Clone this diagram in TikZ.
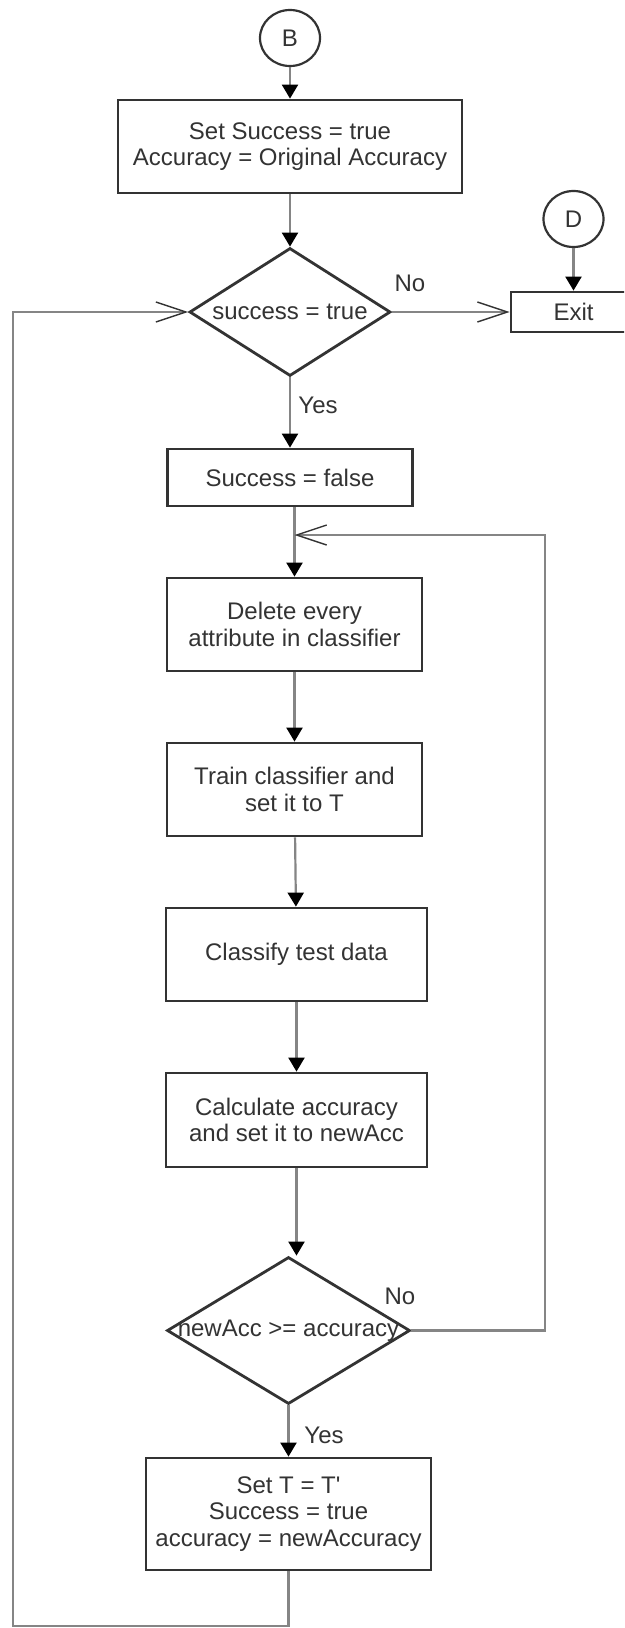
\documentclass[tikz,border=0pt]{standalone}
\usepackage{fontspec}
\setmainfont{Liberation Sans}
\usetikzlibrary{shapes.geometric,arrows.meta,calc}
\definecolor{boxline}{HTML}{333333}
\definecolor{conn}{HTML}{858585}
\definecolor{txt}{HTML}{333333}
\begin{document}
\begin{tikzpicture}[x=1pt,y=-1pt,
  every node/.style={font=\fontsize{24}{26.5}\selectfont, text=txt},
  proc/.style={draw=boxline, line width=2.8pt, rectangle, align=center, inner sep=0pt},
  dec/.style={draw=boxline, line width=2.8pt, diamond, inner sep=0pt},
  conn/.style={draw=boxline, line width=2.2pt, ellipse, inner sep=0pt, minimum width=60pt, minimum height=56pt},
  line/.style={draw=conn, line width=2.2pt},
  arr/.style={line, -{Triangle[length=14pt,width=16pt,color=black]}},
  openarr/.style={line, -{Straight Barb[length=30pt,width=20pt,line width=1.4pt,color=boxline]}},
  lab/.style={inner sep=0pt}
]
\fill[white] (0,0) rectangle (624,1628);
\clip (0,0) rectangle (624,1628);

\node[conn] (B) at (290,38) {B};
\node[proc, minimum width=344pt, minimum height=93pt] (box1) at (290,146.5)
  {Set Success = true\\Accuracy = Original Accuracy};
\node[dec, minimum width=201pt, minimum height=128pt] (dia1) at (290,312)
  {\makebox[0pt]{success = true}};
\node[conn] (D) at (573.5,219) {D};
\node[proc, minimum width=125pt, minimum height=40pt] (exit) at (573.5,312) {Exit};
\node[proc, minimum width=245pt, minimum height=57pt] (box2) at (290,477.5) {Success = false};
\node[proc, minimum width=255pt, minimum height=93pt] (box3) at (294.5,624.5)
  {Delete every\\attribute in classifier};
\node[proc, minimum width=255pt, minimum height=93pt] (box4) at (294.5,789.5)
  {Train classifier and\\set it to T};
\node[proc, minimum width=261pt, minimum height=93pt] (box5) at (296.5,954.5)
  {Classify test data};
\node[proc, minimum width=261pt, minimum height=94pt] (box6) at (296.5,1120)
  {Calculate accuracy\\and set it to newAcc};
\node[dec, minimum width=243pt, minimum height=147pt] (dia2) at (288.5,1330.5)
  {\makebox[0pt]{newAcc >= accuracy}};
\node[proc, minimum width=285pt, minimum height=112pt] (box7) at (288.5,1514)
  {Set T = T\textquotesingle\\Success = true\\accuracy = newAccuracy};

\node[lab] (no1) at (410,283) {No};
\node[lab] (yes1) at (318,405) {Yes};
\node[lab] (no2) at (400,1296) {No};
\node[lab] (yes2) at (324,1435) {Yes};

\coordinate (bl) at (13,1626);
\coordinate (rl) at (545,535);

\draw[arr] (B) -- (box1);
\draw[arr] (box1) -- (dia1);
\draw[openarr] (dia1.east) -- (exit.west);
\draw[arr] (D) -- (exit);
\draw[arr] (dia1) -- (box2);
\draw[arr] (box2.south -| box3.north) -- (box3.north);
\draw[arr] (box3) -- (box4);
\draw[arr] (box4) -- (box5);
\draw[arr] (box5) -- (box6);
\draw[arr] (box6.south) -- (box6.south |- dia2.north);
\draw[arr] (dia2) -- (box7);
\draw[openarr] (dia2.east) -| (rl) -- (rl -| box3);
\draw[openarr] (box7.south) |- (bl) |- (dia1.west);
\end{tikzpicture}
\end{document}
